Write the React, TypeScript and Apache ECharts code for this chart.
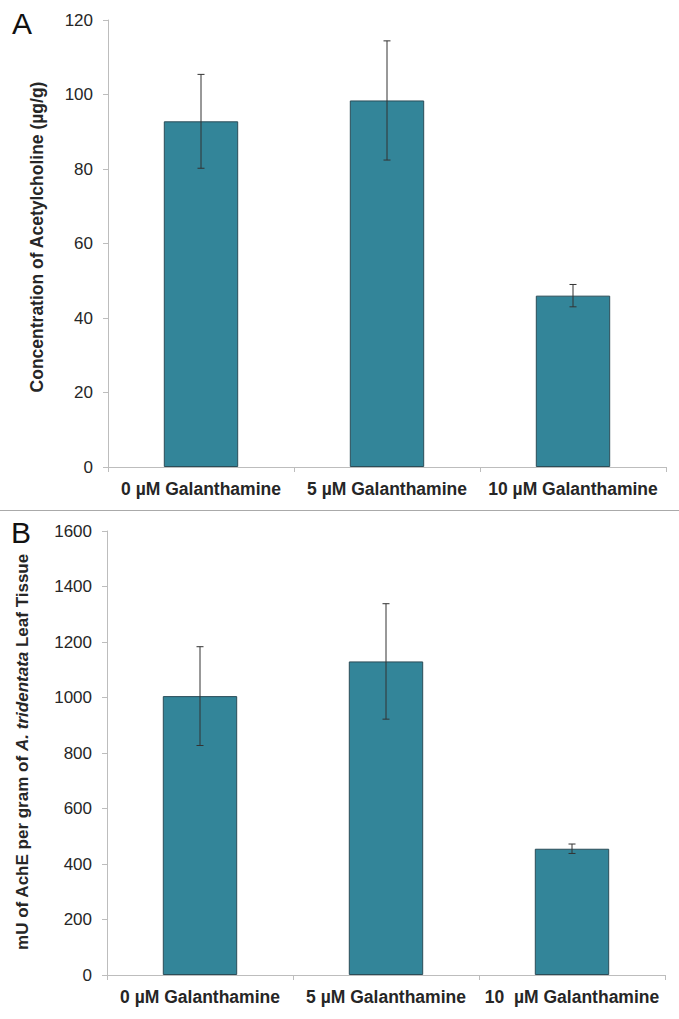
import React, { useEffect, useRef } from "react";
import * as echarts from "echarts";

const categoriesA = ["0 µM Galanthamine", "5 µM Galanthamine", "10 µM Galanthamine"];
const categoriesB = ["0 µM Galanthamine", "5 µM Galanthamine", "10  µM Galanthamine"];
const meanA = [92.8, 98.4, 46.0];
const errA = [12.6, 16.0, 3.0];
const meanB = [1005, 1130, 455];
const errB = [178, 208, 17];
const ticksA = { min: 0, max: 120, interval: 20 };
const ticksB = { min: 0, max: 1600, interval: 200 };
const titleA = "Concentration of Acetylcholine (µg/g)";
const titleB = "mU of AchE per gram of {i|A. tridentata} Leaf Tissue";

const FONT = "'Liberation Sans', Arial, sans-serif";
const BAR = "#338599";
const AXIS = "#bdbdbd";
const TXT = "#262626";

function errorData(mean: number[], err: number[]) {
  return mean.map((m, i) => [i, m - err[i], m + err[i]]);
}

function renderErr(params: any, api: any) {
  const x = api.value(0);
  const lo = api.coord([x, api.value(1)]);
  const hi = api.coord([x, api.value(2)]);
  const h = 3.5;
  const st = { stroke: "#333", lineWidth: 1 };
  return {
    type: "group",
    children: [
      { type: "line", shape: { x1: hi[0], y1: hi[1], x2: lo[0], y2: lo[1] }, style: st },
      { type: "line", shape: { x1: hi[0] - h, y1: hi[1], x2: hi[0] + h, y2: hi[1] }, style: st },
      { type: "line", shape: { x1: lo[0] - h, y1: lo[1], x2: lo[0] + h, y2: lo[1] }, style: st },
    ],
  };
}

export default function App() {
  const ref = useRef<HTMLDivElement>(null);
  useEffect(() => {
    document.body.style.margin = "0";
    const chart = echarts.init(ref.current!, null, { renderer: "svg" });
    const xAxisBase = (cats: string[], gi: number) => ({
      type: "category",
      gridIndex: gi,
      data: cats,
      axisLine: { lineStyle: { color: AXIS, width: 1 } },
      axisTick: { show: true, length: 5, lineStyle: { color: AXIS } },
      axisLabel: { interval: 0, color: TXT, fontFamily: FONT, fontWeight: "bold", fontSize: 17.5, margin: 13 },
    });
    const yAxisBase = (t: any, gi: number) => ({
      type: "value",
      gridIndex: gi,
      min: t.min,
      max: t.max,
      interval: t.interval,
      axisLine: { show: true, lineStyle: { color: AXIS, width: 1 } },
      axisTick: { show: true, length: 5, lineStyle: { color: AXIS } },
      axisLabel: { color: TXT, fontFamily: FONT, fontSize: 17, margin: 15, formatter: (v: number) => String(v) },
      splitLine: { show: false },
    });
    chart.setOption({
      animation: false,
      backgroundColor: "#fff",
      grid: [
        { left: 108, top: 20, width: 558, height: 447 },
        { left: 107, top: 531, width: 558, height: 444 },
      ],
      xAxis: [xAxisBase(categoriesA, 0), xAxisBase(categoriesB, 1)],
      yAxis: [yAxisBase(ticksA, 0), yAxisBase(ticksB, 1)],
      graphic: [
        { type: "line", shape: { x1: 0, y1: 510.5, x2: 679, y2: 510.5 }, style: { stroke: "#aaa", lineWidth: 1 } },
        { type: "text", left: 12, top: 8, style: { text: "A", fontSize: 30, fontFamily: FONT, fill: "#111" } },
        { type: "text", left: 11, top: 517, style: { text: "B", fontSize: 30, fontFamily: FONT, fill: "#111" } },
        {
          type: "text",
          x: 37,
          y: 237,
          rotation: Math.PI / 2,
          style: {
            text: titleA,
            fontSize: 17.5,
            fontWeight: "bold",
            fontFamily: FONT,
            fill: TXT,
            align: "center",
            verticalAlign: "middle",
          },
        },
        {
          type: "text",
          x: 22,
          y: 752,
          rotation: Math.PI / 2,
          style: {
            text: titleB,
            fontSize: 17,
            fontWeight: "bold",
            fontFamily: FONT,
            fill: TXT,
            align: "center",
            verticalAlign: "middle",
            rich: {
              i: { fontStyle: "italic", fontWeight: "bold", fontSize: 17, fontFamily: FONT, fill: TXT },
            },
          },
        },
      ],
      series: [
        {
          type: "bar",
          xAxisIndex: 0,
          yAxisIndex: 0,
          data: meanA,
          barWidth: "40%",
          itemStyle: { color: BAR, borderColor: "#2b4d58", borderWidth: 1 },
        },
        {
          type: "custom",
          xAxisIndex: 0,
          yAxisIndex: 0,
          data: errorData(meanA, errA),
          encode: { x: 0, y: [1, 2] },
          renderItem: renderErr,
          z: 10,
        },
        {
          type: "bar",
          xAxisIndex: 1,
          yAxisIndex: 1,
          data: meanB,
          barWidth: "40%",
          itemStyle: { color: BAR, borderColor: "#2b4d58", borderWidth: 1 },
        },
        {
          type: "custom",
          xAxisIndex: 1,
          yAxisIndex: 1,
          data: errorData(meanB, errB),
          encode: { x: 0, y: [1, 2] },
          renderItem: renderErr,
          z: 10,
        },
      ],
    });
    return () => chart.dispose();
  }, []);
  return <div ref={ref} style={{ width: 679, height: 1019 }} />;
}
